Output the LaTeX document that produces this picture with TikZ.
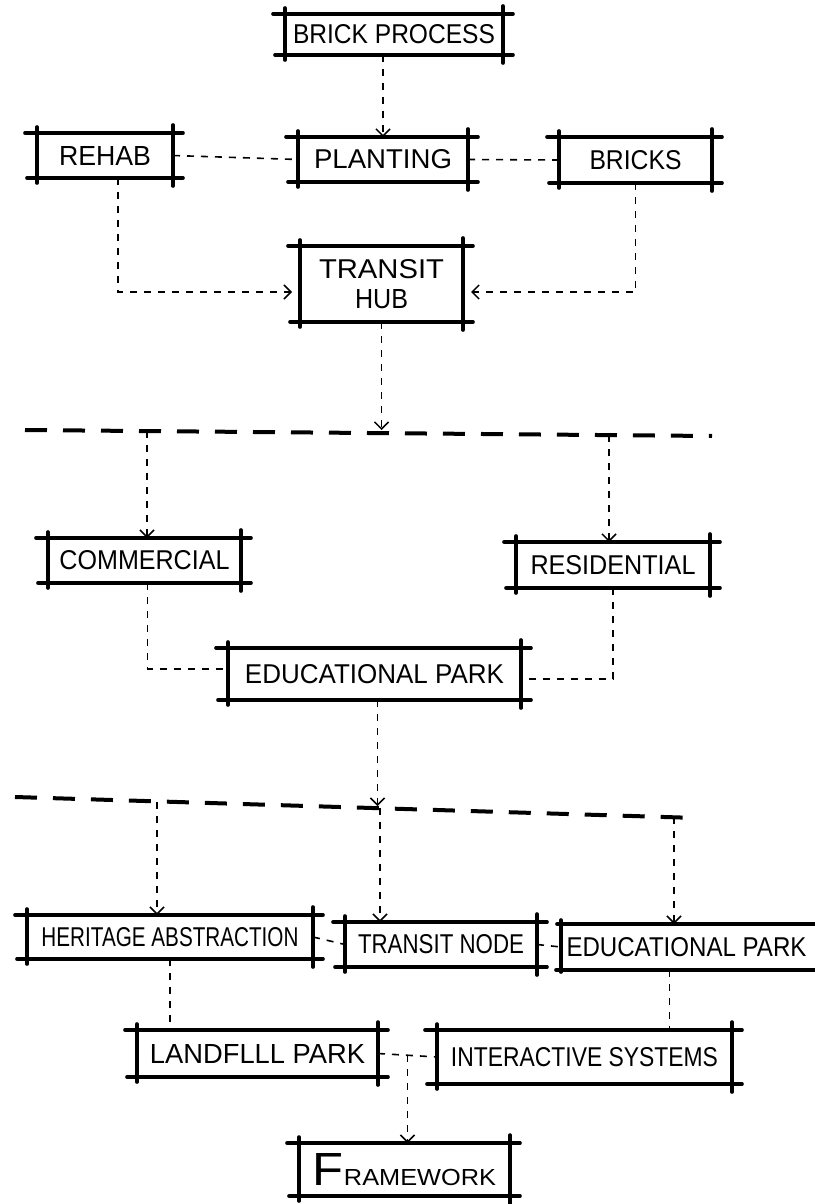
\documentclass[tikz,border=0pt]{standalone}
\usepackage{fontspec}
\setmainfont{Liberation Sans}
\usepackage{graphicx}
\usetikzlibrary{calc,arrows.meta}
\tikzset{
  box/.style={inner sep=0pt, outer sep=0pt, font=\fontsize{22}{30}\selectfont, align=center},
  edgeline/.style={line width=3.6pt, line cap=round},
  conn/.style={line width=1.6pt, dash pattern=on 7pt off 7pt},
  arr/.style={conn, -{Straight Barb[length=7pt,width=14pt,line width=1.5pt]}},
  sepline/.style={line width=4pt, dash pattern=on 22pt off 16pt},
}
\newcommand\skbox[1]{%
  \draw[edgeline] ($(#1.north west)+(-12,0)$) -- ($(#1.north east)+(10,0)$);
  \draw[edgeline] ($(#1.south west)+(-10,0)$) -- ($(#1.south east)+(10,0)$);
  \draw[edgeline] ($(#1.north west)+(0,-6)$) -- ($(#1.south west)+(0,5)$);
  \draw[edgeline] ($(#1.north east)+(0,-8)$) -- ($(#1.south east)+(0,8)$);
}
\newcommand\fitw[2]{\resizebox{#1pt}{19pt}{#2}}
\begin{document}
\begin{tikzpicture}[x=1pt,y=-1pt]
\useasboundingbox (0,0) rectangle (814,1204);
\fill[white] (0,0) rectangle (814,1204);

% boxes
\node[box, minimum width=218pt, minimum height=41pt] (bp) at (394,34.5) {\fitw{202}{BRICK PROCESS}};
\node[box, minimum width=136pt, minimum height=45pt] (rehab) at (105,155.5) {\fitw{92}{REHAB}};
\node[box, minimum width=170pt, minimum height=45pt] (plant) at (383,159.5) {\fitw{138}{PLANTING}};
\node[box, minimum width=153pt, minimum height=46pt] (bricks) at (635.5,160) {\fitw{92}{BRICKS}};
\node[box, minimum width=163pt, minimum height=76pt] (hub) at (381.5,284) {\fitw{125}{TRANSIT}\\\fitw{53}{HUB}};
\node[box, minimum width=193pt, minimum height=45pt] (comm) at (144.5,560.5) {\fitw{170}{COMMERCIAL}};
\node[box, minimum width=194pt, minimum height=46pt] (resi) at (613,565) {\fitw{165}{RESIDENTIAL}};
\node[box, minimum width=293pt, minimum height=52pt] (edu) at (374.5,674) {\fitw{259}{EDUCATIONAL PARK}};
\node[box, minimum width=286pt, minimum height=44pt] (heri) at (170,937) {\fitw{257}{HERITAGE ABSTRACTION}};
\node[box, minimum width=192pt, minimum height=45pt] (tnode) at (441,944.5) {\fitw{166}{TRANSIT NODE}};
\node[box, minimum width=251pt, minimum height=46pt] (edu2) at (686.5,947) {\fitw{240}{EDUCATIONAL PARK}};
\node[box, minimum width=241pt, minimum height=47pt] (land) at (257.5,1053.5) {\fitw{215}{LANDFLLL PARK}};
\node[box, minimum width=295pt, minimum height=54pt] (inter) at (584.5,1057) {\fitw{267}{INTERACTIVE SYSTEMS}};
\node[box, minimum width=211pt, minimum height=53pt] (frame) at (404.5,1169.5) {\resizebox{183pt}{32pt}{{\fontsize{40}{40}\selectfont F}{\fontsize{20}{20}\selectfont RAMEWORK}}};

\skbox{bp}\skbox{rehab}\skbox{plant}\skbox{bricks}\skbox{hub}
\skbox{comm}\skbox{resi}\skbox{edu}\skbox{heri}\skbox{tnode}
\skbox{land}\skbox{inter}\skbox{frame}
% partly cut-off box on the right
\draw[edgeline] ($(edu2.north west)+(-4,0)$) -- ($(edu2.north east)+(4,0)$);
\draw[edgeline] ($(edu2.south west)+(-5,0)$) -- ($(edu2.south east)+(4,0)$);
\draw[edgeline] ($(edu2.north west)+(0,-4)$) -- ($(edu2.south west)+(0,2)$);

% separators
\coordinate (s1a) at (25,430);
\coordinate (s1b) at (712,436);
\coordinate (s2a) at (15,797);
\coordinate (s2b) at (697,818);
\draw[sepline] (s1a) -- (s1b);
\draw[sepline] (s2a) -- (s2b);

% top part
\draw[arr] (bp.south -| plant.north) -- (plant.north);
\draw[conn] (rehab.east) -- (plant.west);
\draw[conn] (plant.east) -- (bricks.west);
\draw[arr] ($(rehab.south)+(13,0)$) |- ($(hub.west)+(-8,8)$);
\draw[arr] (bricks.south) |- ($(hub.east)+(8,8)$);
\draw[arr] (hub.south) -- (hub.south |- s1a);

% middle part
\coordinate (d1c) at (147,431);
\coordinate (d1r) at (609,435);
\draw[arr] (d1c) -- (d1c |- comm.north);
\draw[arr] (d1r) -- (d1r |- resi.north);
\draw[conn] ($(comm.south)+(3,0)$) |- ($(edu.west)+(0,-5)$);
\draw[conn] (resi.south) |- ($(edu.east)+(0,5)$);
\coordinate (s2m) at (377.5,806);
\draw[arr] ($(edu.south)+(3,0)$) -- (s2m);

% lower part
\coordinate (d2h) at (157,802);
\coordinate (d2t) at (380,808);
\coordinate (d2e) at (674,817);
\draw[arr] (d2h) -- (d2h |- heri.north);
\draw[arr] (d2t) -- (d2t |- tnode.north);
\draw[arr] (d2e) -- (d2e |- edu2.north);
\draw[conn] (heri.east) -- (tnode.west);
\draw[conn] (tnode.east) -- (edu2.west);
\draw[conn] (heri.south) -- (heri.south |- land.north);
\coordinate (e2b) at ($(edu2.south)+(-17,0)$);
\draw[conn] (e2b) -- (e2b |- inter.north);
\draw[conn] (land.east) -- (inter.west);
\coordinate (jn) at ($(land.east)!0.5!(inter.west)$);
\draw[arr] (jn) -- (jn |- frame.north);
\end{tikzpicture}
\end{document}
